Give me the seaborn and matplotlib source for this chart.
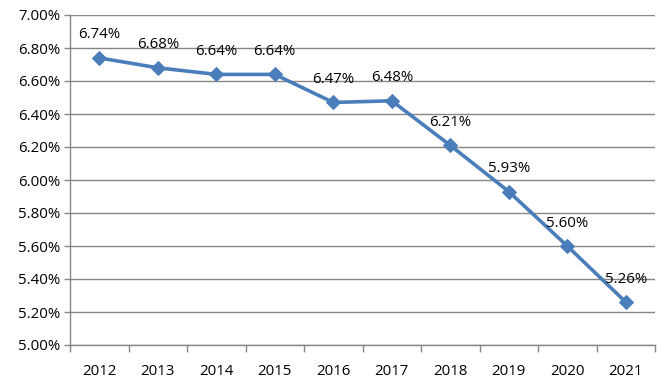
import matplotlib
matplotlib.use("Agg")
import matplotlib.pyplot as plt
import seaborn as sns
import pandas as pd
from matplotlib.ticker import FuncFormatter, FixedLocator

years = ["2012", "2013", "2014", "2015", "2016", "2017", "2018", "2019", "2020", "2021"]
rates = [6.74, 6.68, 6.64, 6.64, 6.47, 6.48, 6.21, 5.93, 5.60, 5.26]
y_ticks = [5.0, 5.2, 5.4, 5.6, 5.8, 6.0, 6.2, 6.4, 6.6, 6.8, 7.0]

df = pd.DataFrame({"year": years, "rate": rates})
df["x"] = range(len(years))

sns.set_theme(style="white")
plt.rcParams["font.family"] = ["Open Sans", "DejaVu Sans"]

fig = plt.figure(figsize=(6.69, 3.91), dpi=100)
ax = fig.add_axes([70 / 669, 1 - 345 / 391, 585 / 669, 330 / 391])

grid_col = "#868686"
line_col = "#4A7EBB"

sns.lineplot(data=df, x="x", y="rate", ax=ax, color=line_col, linewidth=2.6,
             marker="D", markersize=7, markeredgecolor=line_col, zorder=3)

for x, v in zip(df["x"], df["rate"]):
    ax.annotate(f"{v:.2f}%", (x, v), xytext=(0, 16.5), textcoords="offset points",
                ha="center", va="center", fontsize=10.8, color="black")

ax.set_xlim(-0.5, len(years) - 0.5)
ax.set_ylim(5.0, 7.0)
ax.set_yticks(y_ticks)
ax.yaxis.set_major_formatter(FuncFormatter(lambda v, p: f"{v:.2f}%"))
ax.set_xticks(df["x"])
ax.set_xticklabels(years)
ax.xaxis.set_minor_locator(FixedLocator([i - 0.5 for i in range(len(years) + 1)]))
ax.tick_params(axis="x", which="major", length=0, pad=14, labelsize=10.8, colors="black")
ax.tick_params(axis="x", which="minor", bottom=True, length=5, width=1, color=grid_col)
ax.tick_params(axis="y", left=True, length=4, width=1, color=grid_col, labelsize=10.8,
               labelcolor="black", pad=3)
ax.grid(axis="y", color=grid_col, linewidth=1)
ax.set_axisbelow(True)
for s in ["top", "right"]:
    ax.spines[s].set_visible(False)
for s in ["left", "bottom"]:
    ax.spines[s].set_color(grid_col)
    ax.spines[s].set_linewidth(1)
ax.set_xlabel("")
ax.set_ylabel("")

fig.savefig("out.png", dpi=100)
